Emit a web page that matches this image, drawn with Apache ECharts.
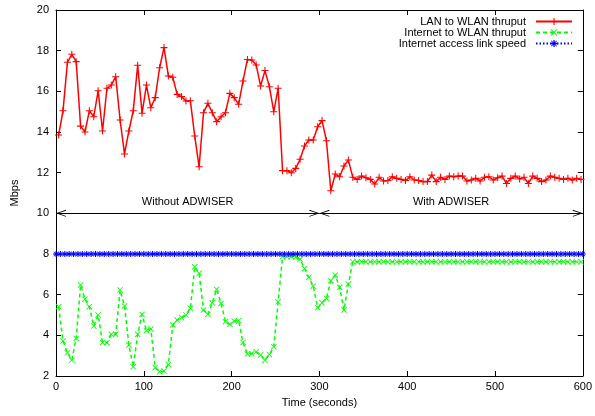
<!DOCTYPE html>
<html>
<head>
<meta charset="utf-8">
<script src="https://cdn.jsdelivr.net/npm/echarts@6/dist/echarts.min.js"></script>
<style>
html,body{margin:0;padding:0;background:#fff;}
#chart{width:595px;height:416px;}
</style>
</head>
<body>
<div id="chart"></div>
<script>
// Time stamps (seconds) of the throughput samples
var times = [3,8,13,18,23,28,33,38,43,48,53,58,63,68,73,78,83,88,93,98,
  103,108,113,118,123,128,133,138,143,148,153,158,163,168,173,178,183,188,193,198,
  203,208,213,218,223,228,233,238,243,248,253,258,263,268,273,278,283,288,293,298,
  303,308,313,318,323,328,333,338,343,348,353,358,363,368,373,378,383,388,393,398,
  403,408,413,418,423,428,433,438,443,448,453,458,463,468,473,478,483,488,493,498,
  503,508,513,518,523,528,533,538,543,548,553,558,563,568,573,578,583,588,593,598];

var lanToWlan = [13.85,15.05,17.43,17.82,17.46,14.29,14.0,15.05,14.75,16.03,
  14.05,16.15,16.31,16.72,14.59,12.92,14.05,15.05,17.28,14.92,
  16.31,15.19,15.69,17.16,18.15,16.75,16.69,15.85,15.74,15.52,
  15.54,13.80,12.29,14.95,15.41,14.95,14.51,14.75,14.95,15.90,
  15.69,15.36,16.51,17.57,17.54,17.30,16.26,17.02,16.23,15.0,
  16.15,12.10,12.10,12.0,12.21,12.66,13.31,13.61,13.61,14.26,
  14.56,13.57,11.11,11.93,11.80,12.33,12.62,11.77,11.67,11.83,
  11.75,11.67,11.44,11.77,11.59,11.61,11.80,11.72,11.67,11.61,
  11.80,11.64,11.61,11.56,11.56,11.88,11.56,11.77,11.67,11.83,
  11.80,11.83,11.83,11.59,11.64,11.72,11.59,11.77,11.80,11.64,
  11.75,11.83,11.47,11.72,11.83,11.69,11.77,11.47,11.83,11.72,
  11.56,11.64,11.83,11.77,11.72,11.67,11.72,11.64,11.72,11.67];

var internetToWlan = [5.41,3.72,3.14,2.78,3.85,6.47,5.78,5.41,4.46,5.0,
  3.65,3.63,4.05,4.05,6.23,5.44,3.52,2.45,4.05,5.03,
  4.23,4.31,2.42,2.21,2.24,2.57,4.51,4.75,4.87,5.0,
  5.33,7.37,7.05,5.24,5.03,5.60,6.26,5.57,4.67,4.54,
  4.70,4.72,3.65,3.08,3.10,3.19,3.03,2.78,3.06,3.44,
  5.65,7.87,7.87,7.87,7.84,7.74,7.29,6.85,6.42,5.36,
  5.60,5.82,6.69,6.96,6.36,5.24,6.52,7.62,7.62,7.62,
  7.62,7.62,7.62,7.62,7.62,7.62,7.62,7.62,7.62,7.62,
  7.62,7.62,7.62,7.62,7.62,7.62,7.62,7.62,7.62,7.62,
  7.62,7.62,7.62,7.62,7.62,7.62,7.62,7.62,7.62,7.62,
  7.62,7.62,7.62,7.62,7.62,7.62,7.62,7.62,7.62,7.62,
  7.62,7.62,7.62,7.62,7.62,7.62,7.62,7.62,7.62,7.62];

var linkTimes = [0,5,10,15,20,25,30,35,40,45,50,55,60,65,70,75,80,85,90,95,
  100,105,110,115,120,125,130,135,140,145,150,155,160,165,170,175,180,185,190,195,
  200,205,210,215,220,225,230,235,240,245,250,255,260,265,270,275,280,285,290,295,
  300,305,310,315,320,325,330,335,340,345,350,355,360,365,370,375,380,385,390,395,
  400,405,410,415,420,425,430,435,440,445,450,455,460,465,470,475,480,485,490,495,
  500,505,510,515,520,525,530,535,540,545,550,555,560,565,570,575,580,585,590,595,600];
var linkSpeed = [8,8,8,8,8,8,8,8,8,8,8,8,8,8,8,8,8,8,8,8,
  8,8,8,8,8,8,8,8,8,8,8,8,8,8,8,8,8,8,8,8,
  8,8,8,8,8,8,8,8,8,8,8,8,8,8,8,8,8,8,8,8,
  8,8,8,8,8,8,8,8,8,8,8,8,8,8,8,8,8,8,8,8,
  8,8,8,8,8,8,8,8,8,8,8,8,8,8,8,8,8,8,8,8,
  8,8,8,8,8,8,8,8,8,8,8,8,8,8,8,8,8,8,8,8,8];

var seriesNames = ['LAN to WLAN thruput', 'Internet to WLAN thruput', 'Internet access link speed'];
var xTicks = {min: 0, max: 600, step: 100};
var yTicks = {min: 2, max: 20, step: 2};
var phases = [
  {label: 'Without ADWISER', from: 0, to: 300, level: 10},
  {label: 'With ADWISER', from: 300, to: 600, level: 10}
];

function pairs(xs, ys) { return xs.map(function (x, i) { return [x, ys[i]]; }); }

var FONT = '"Liberation Sans", Arial, Helvetica, sans-serif';
var plusSym = 'path://M-0.6,-4 L0.6,-4 L0.6,-0.6 L4,-0.6 L4,0.6 L0.6,0.6 L0.6,4 L-0.6,4 L-0.6,0.6 L-4,0.6 L-4,-0.6 L-0.6,-0.6 Z';
var crossSym = 'path://M-4,-3.2 L-3.2,-4 L0,-0.8 L3.2,-4 L4,-3.2 L0.8,0 L4,3.2 L3.2,4 L0,0.8 L-3.2,4 L-4,3.2 L-0.8,0 Z';
var starSym = 'path://M-0.7,-4 L0.7,-4 L0.7,-1.4 L2.8,-3.4 L3.4,-2.8 L1.4,-0.7 L4,-0.7 L4,0.7 L1.4,0.7 L3.4,2.8 L2.8,3.4 L0.7,1.4 L0.7,4 L-0.7,4 L-0.7,1.4 L-2.8,3.4 L-3.4,2.8 L-1.4,0.7 L-4,0.7 L-4,-0.7 L-1.4,-0.7 L-3.4,-2.8 L-2.8,-3.4 L-0.7,-1.4 Z';
var headSym = 'path://M0,-10 L0,-10 Z M0,0 L3.5,10 L2.7,10 L0,2.4 L-2.7,10 L-3.5,10 Z';

var axisCommon = {
  axisLine: {show: true, onZero: false, lineStyle: {color: '#000', width: 1}},
  axisTick: {show: true, inside: true, length: 5, lineStyle: {color: '#000', width: 1}},
  splitLine: {show: false},
  axisLabel: {color: '#000', fontSize: 11, fontFamily: FONT}
};

var chart = echarts.init(document.getElementById('chart'), null, {renderer: 'canvas'});
chart.setOption({
  animation: false,
  backgroundColor: '#fff',
  textStyle: {fontFamily: FONT},
  grid: {left: 56, right: 8, top: 10, bottom: 40, containLabel: false},
  legend: {
    orient: 'vertical', right: 17, top: 11, align: 'right',
    itemWidth: 36, itemHeight: 9, itemGap: 0,
    textStyle: {fontSize: 11, lineHeight: 10, color: '#000', fontFamily: FONT, padding: [0, 5, 0, 0]},
    data: seriesNames
  },
  xAxis: [
    Object.assign({}, axisCommon, {
      type: 'value', position: 'bottom', min: xTicks.min, max: xTicks.max, interval: xTicks.step,
      name: 'Time (seconds)', nameLocation: 'middle', nameGap: 21,
      nameTextStyle: {fontSize: 11, color: '#000', fontFamily: FONT},
      axisLabel: {color: '#000', fontSize: 11, fontFamily: FONT, margin: 5}
    }),
    Object.assign({}, axisCommon, {
      type: 'value', position: 'top', min: xTicks.min, max: xTicks.max, interval: xTicks.step,
      axisLabel: {show: false}
    })
  ],
  yAxis: [
    Object.assign({}, axisCommon, {
      type: 'value', position: 'left', min: yTicks.min, max: yTicks.max, interval: yTicks.step,
      name: 'Mbps', nameLocation: 'middle', nameGap: 36, nameRotate: 90,
      nameTextStyle: {fontSize: 11, color: '#000', fontFamily: FONT},
      axisLabel: {color: '#000', fontSize: 11, fontFamily: FONT, margin: 7}
    }),
    Object.assign({}, axisCommon, {
      type: 'value', position: 'right', min: yTicks.min, max: yTicks.max, interval: yTicks.step,
      axisLabel: {show: false}
    })
  ],
  series: [
    {
      name: seriesNames[0], type: 'line', xAxisIndex: 0, yAxisIndex: 0,
      data: pairs(times, lanToWlan),
      symbol: plusSym, symbolSize: 7, showAllSymbol: true,
      lineStyle: {color: '#ff0000', width: 1.5},
      itemStyle: {color: '#ff0000'},
      markLine: {
        silent: true, animation: false,
        symbol: [headSym, headSym], symbolSize: [7, 20],
        lineStyle: {color: '#000', width: 1, type: 'solid'},
        label: {show: true, position: 'middle', color: '#000', fontSize: 11, fontFamily: FONT,
          backgroundColor: '#fff', padding: [1, 5, 1, 5], formatter: '{b}'},
        emphasis: {disabled: true},
        data: phases.map(function (p) {
          return [{name: p.label, coord: [p.from, p.level]}, {coord: [p.to, p.level]}];
        })
      }
    },
    {
      name: seriesNames[1], type: 'line', xAxisIndex: 0, yAxisIndex: 0,
      data: pairs(times, internetToWlan),
      symbol: crossSym, symbolSize: 6, showAllSymbol: true,
      lineStyle: {color: '#00ff00', width: 1.5, type: [4, 3]},
      itemStyle: {color: '#00ff00'}
    },
    {
      name: seriesNames[2], type: 'line', xAxisIndex: 0, yAxisIndex: 0,
      data: pairs(linkTimes, linkSpeed),
      symbol: starSym, symbolSize: 6, showAllSymbol: true,
      lineStyle: {color: '#0000ff', width: 1.5, type: [1.5, 2]},
      itemStyle: {color: '#0000ff'}
    }
  ]
});
</script>
</body>
</html>
